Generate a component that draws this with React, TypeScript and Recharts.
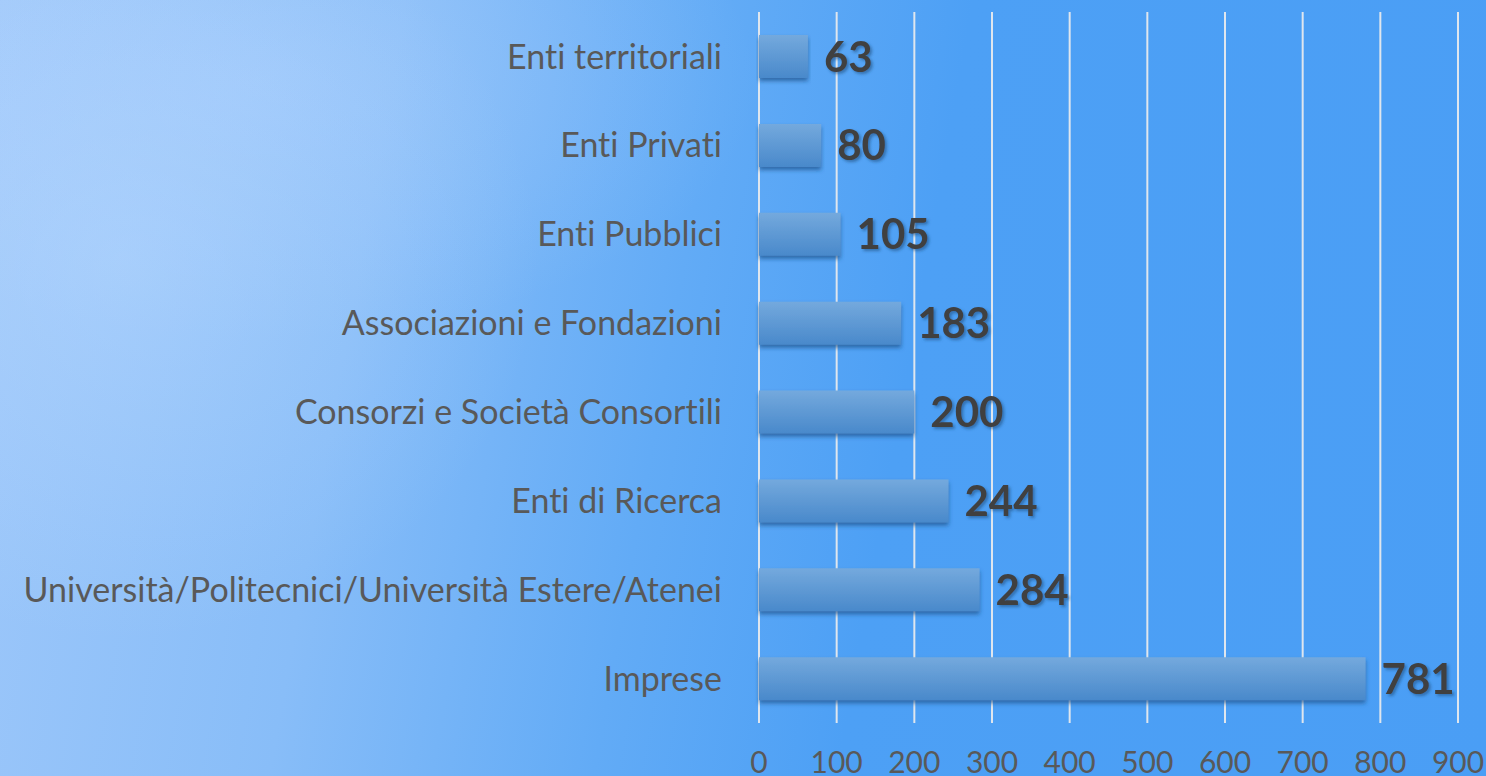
import { BarChart, Bar, XAxis, YAxis, CartesianGrid, LabelList } from "recharts";

const categories = [
  "Enti territoriali",
  "Enti Privati",
  "Enti Pubblici",
  "Associazioni e Fondazioni",
  "Consorzi e Società Consortili",
  "Enti di Ricerca",
  "Università/Politecnici/Università Estere/Atenei",
  "Imprese",
];
const values = [63, 80, 105, 183, 200, 244, 284, 781];
const xTicks = [0, 100, 200, 300, 400, 500, 600, 700, 800, 900];

const data = categories.map((name, i) => ({ name, value: values[i] }));

const FONT = "Lato, 'Open Sans', sans-serif";

export default function App() {
  return (
    <div
      style={{
        position: "absolute",
        left: 0,
        top: 0,
        width: 1486,
        height: 776,
        overflow: "hidden",
        fontVariantLigatures: "none",
        background:
          "radial-gradient(ellipse 420px 380px at 120px 260px, rgba(190,220,255,0.4), rgba(190,220,255,0) 100%)," +
          "radial-gradient(ellipse 500px 260px at 260px 80px, rgba(185,215,255,0.35), rgba(185,215,255,0) 100%)," +
          "linear-gradient(100deg, #9fc8fa 0%, #88bdf8 25%, #62abf6 45%, #4da0f5 60%, #4a9ef5 100%)",
      }}
    >
      <BarChart
        width={1486}
        height={776}
        layout="vertical"
        data={data}
        margin={{ top: 12, right: 28, bottom: 0, left: 0 }}
        barCategoryGap="26%"
      >
        <defs>
          <linearGradient id="barFill" x1="0" y1="0" x2="0" y2="1">
            <stop offset="0%" stopColor="#74a9dd" />
            <stop offset="100%" stopColor="#4989cb" />
          </linearGradient>
          <filter id="barShadow" x="-5%" y="-20%" width="110%" height="160%">
            <feDropShadow dx="0" dy="3" stdDeviation="2" floodColor="#1d4f86" floodOpacity="0.7" />
          </filter>
          <filter id="txtShadow" x="-10%" y="-10%" width="130%" height="140%">
            <feDropShadow dx="2" dy="2" stdDeviation="1.5" floodColor="#1f4f80" floodOpacity="0.6" />
          </filter>
        </defs>
        <CartesianGrid horizontal={false} stroke="#dfe6ee" strokeWidth={2} />
        <XAxis
          type="number"
          domain={[0, 900]}
          ticks={xTicks}
          axisLine={false}
          tickLine={false}
          height={53}
          tickSize={0}
          tickMargin={29}
          interval={0}
          tick={{ fill: "#595959", fontSize: 30, fontFamily: FONT }}
        />
        <YAxis
          type="category"
          dataKey="name"
          width={759}
          axisLine={false}
          tickLine={false}
          tickSize={0}
          tickMargin={37}
          interval={0}
          tick={{ fill: "#595959", fontSize: 34, fontFamily: FONT }}
        />
        <Bar
          dataKey="value"
          fill="url(#barFill)"
          filter="url(#barShadow)"
          isAnimationActive={false}
        >
          <LabelList
            dataKey="value"
            position="right"
            offset={16}
            fill="#404040"
            fontSize={42}
            fontWeight={700}
            fontFamily={FONT}
            filter="url(#txtShadow)"
          />
        </Bar>
      </BarChart>
    </div>
  );
}
